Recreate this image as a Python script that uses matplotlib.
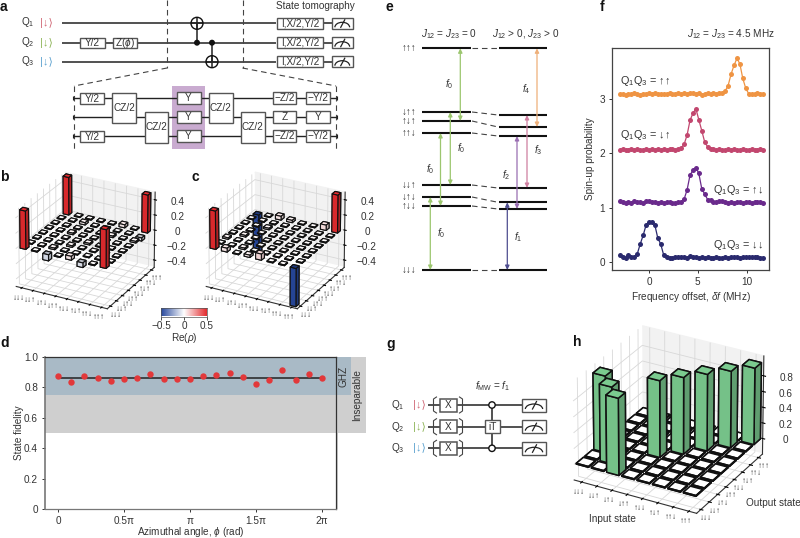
import numpy as np
import matplotlib
matplotlib.use('Agg')
import matplotlib.pyplot as plt
from matplotlib.colors import LinearSegmentedColormap, Normalize, to_rgb
from matplotlib.patches import Rectangle, Circle, Arc
from mpl_toolkits.mplot3d import Axes3D

plt.rcParams['font.family'] = ['Liberation Sans', 'DejaVu Sans']
plt.rcParams['mathtext.fontset'] = 'custom'
plt.rcParams['mathtext.rm'] = 'Liberation Sans'
plt.rcParams['mathtext.it'] = 'Liberation Sans:italic'
plt.rcParams['mathtext.bf'] = 'Liberation Sans:bold'
plt.rcParams['axes.unicode_minus'] = True

W, H = 800, 538
TXT = '#333333'
FS = 7.2
ARW = 7.0

states = ['↓↓↓', '↓↓↑', '↓↑↓', '↓↑↑', '↑↓↓', '↑↓↑', '↑↑↓', '↑↑↑']

# ---- panel b / c: density matrices
rho_b = [[.50, .01, .01, .01, .01, .01, .01, .50],
         [.01, .01, .01, .01, .01, .01, .01, .01],
         [-.08, .02, .01, .01, .02, .01, .03, .01],
         [.01, .01, .02, .01, .01, .01, .01, .01],
         [.05, .01, .01, .02, .01, .01, .01, .01],
         [-.06, .01, .01, .01, .01, .02, .01, .04],
         [.01, .01, .01, .01, .01, .01, .01, .01],
         [.50, .01, .01, .01, .01, .02, -.04, .50]]
rho_c = [[.50, .01, .02, .01, .01, .01, .01, -.50],
         [.05, .01, .01, .02, .01, .01, .01, .01],
         [.01, .02, .01, .01, .01, .02, .01, .05],
         [.03, .01, .01, .01, .01, .01, .01, .03],
         [.08, .01, .01, .01, .01, .01, .01, .01],
         [.01, .01, .01, .01, .01, .01, .01, .01],
         [.01, .01, .01, .01, .01, .01, .01, .07],
         [-.50, .01, .01, .01, .01, .01, .01, .50]]
# ---- panel h: truth table
tt_h = [[.01, .01, .97, .01, .01, .01, .01, .01],
        [.01, .97, .01, .01, .01, .01, .01, .01],
        [.97, .01, .01, .01, .01, .01, .01, .01],
        [.01, .01, .01, .97, .01, .01, .01, .01],
        [.01, .01, .01, .01, .97, .01, .01, .01],
        [.01, .01, .01, .01, .01, .97, .01, .01],
        [.01, .01, .01, .01, .01, .01, .97, .01],
        [.01, .01, .01, .01, .01, .01, .01, .97]]

# ---- panel d
phi_d = [0, .1, .2, .3, .4, .5, .6, .7, .8, .9, 1.0, 1.1, 1.2, 1.3, 1.4, 1.5, 1.6, 1.7, 1.8, 1.9, 2.0]
fid_d = [.875, .835, .875, .86, .84, .855, .865, .885, .858, .858, .855, .878, .88, .893, .87, .825, .847, .915, .85, .888, .865]
fid_mean = .865

# ---- panel f
freq = [-3.0, -2.7, -2.4, -2.1, -1.8, -1.5, -1.2, -.9, -.6, -.3, 0, .3, .6, .9, 1.2, 1.5, 1.8, 2.1, 2.4, 2.7,
        3.0, 3.3, 3.6, 3.9, 4.2, 4.5, 4.8, 5.1, 5.4, 5.7, 6.0, 6.3, 6.6, 6.9, 7.2, 7.5, 7.8, 8.1, 8.4, 8.7,
        9.0, 9.3, 9.6, 9.9, 10.2, 10.5, 10.8, 11.1, 11.4, 11.7]
s_dd = [.13, .09, .08, .12, .09, .09, .15, .33, .49, .68, .74, .74, .68, .44, .33, .13, .09, .08, .08, .09,
        .10, .09, .10, .08, .11, .10, .09, .08, .09, .08, .09, .08, .07, .09, .08, .07, .09, .08, .09, .09,
        .10, .08, .09, .09, .10, .09, .10, .09, .08, .08]
s_ud = [1.12, 1.10, 1.09, 1.11, 1.09, 1.12, 1.10, 1.11, 1.09, 1.12, 1.13, 1.11, 1.10, 1.09, 1.11, 1.09, 1.10, 1.11, 1.08, 1.09,
        1.10, 1.11, 1.16, 1.33, 1.60, 1.69, 1.74, 1.63, 1.35, 1.25, 1.15, 1.14, 1.11, 1.10, 1.12, 1.13, 1.10, 1.09, 1.10, 1.09,
        1.11, 1.10, 1.09, 1.11, 1.10, 1.09, 1.10, 1.11, 1.10, 1.09]
s_du = [2.07, 2.08, 2.06, 2.07, 2.09, 2.07, 2.08, 2.07, 2.06, 2.08, 2.07, 2.08, 2.07, 2.09, 2.07, 2.08, 2.07, 2.08, 2.09, 2.07,
        2.08, 2.10, 2.17, 2.34, 2.61, 2.74, 2.82, 2.62, 2.42, 2.21, 2.12, 2.09, 2.08, 2.06, 2.08, 2.07, 2.06, 2.08, 2.07, 2.08,
        2.06, 2.07, 2.08, 2.06, 2.07, 2.08, 2.06, 2.07, 2.08, 2.07]
s_uu = [3.10, 3.09, 3.07, 3.10, 3.09, 3.11, 3.09, 3.08, 3.10, 3.09, 3.11, 3.10, 3.12, 3.09, 3.10, 3.09, 3.10, 3.11, 3.09, 3.10,
        3.11, 3.09, 3.11, 3.10, 3.12, 3.11, 3.10, 3.12, 3.07, 3.10, 3.11, 3.09, 3.12, 3.10, 3.11, 3.12, 3.15, 3.25, 3.46, 3.62,
        3.75, 3.65, 3.38, 3.20, 3.10, 3.10, 3.09, 3.12, 3.10, 3.09]
f_cols = ['#2a2a6e', '#6a2a8c', '#c2476f', '#ef9443']

# ---- panel e
lv_left = [48.3, 112, 121, 133, 185, 197, 206, 270]
lv_right = [48.3, 115, 127, 136, 188, 202.3, 209, 270]
lv_names = ['↑↑↑', '↓↑↑', '↑↓↑', '↑↑↓', '↓↓↑', '↓↑↓', '↑↓↓', '↓↓↓']

fig = plt.figure(figsize=(8, 5.38), dpi=100)

def axpos(x0, y0, x1, y1):
    return [x0 / W, 1 - y1 / H, (x1 - x0) / W, (y1 - y0) / H]

ov = fig.add_axes([0, 0, 1, 1], zorder=1)
ov.set_xlim(0, W); ov.set_ylim(H, 0); ov.axis('off'); ov.patch.set_alpha(0)

def line(xs, ys, lw=1.1, c='#222222', **k):
    ov.plot(xs, ys, lw=lw, color=c, solid_capstyle='butt', **k)

def box(x0, x1, y0, y1, s=None, fs=FS, lw=1.0, fc='white', ec='#555555'):
    ov.add_patch(Rectangle((x0, y0), x1 - x0, y1 - y0, fc=fc, ec=ec, lw=lw, zorder=3))
    if s:
        ov.text((x0 + x1) / 2, (y0 + y1) / 2, s, ha='center', va='center', fontsize=fs, color=TXT, zorder=4)

def meter(x0, x1, yc, h=11):
    box(x0, x1, yc - h / 2, yc + h / 2)
    xc = (x0 + x1) / 2
    ov.add_patch(Arc((xc, yc + 4), (x1 - x0) * .72, 10, theta1=180, theta2=360, lw=.9, color='#222222', zorder=4))
    ov.plot([xc - 1.5, xc + 2.5], [yc + 4, yc - 3.5], lw=.9, color='#222222', zorder=4)

def dash(xs, ys):
    ov.plot(xs, ys, lw=.8, color='#444444', ls=(0, (5, 3.5)))

def plabel(x, y, s):
    ov.text(x, y, s, fontsize=10, fontweight='bold', ha='left', va='center', color='#111111')

for x, y, s in [(0, 7, 'a'), (0, 177, 'b'), (192, 177, 'c'), (0, 343, 'd'), (386, 7, 'e'), (600, 7, 'f'), (386, 344, 'g'), (573, 342, 'h')]:
    plabel(x, y, s)

# ---------- panel a
qy = [23.3, 42.7, 61.7]
qcol = ['#d16a78', '#8fb55a', '#5fa3d0']
for i, y in enumerate(qy):
    ov.text(21, y - 1, f'Q$_{i+1}$', fontsize=FS, va='center', ha='left', color=TXT)
    ov.text(46, y, '|↓⟩', fontsize=8, va='center', ha='center', color=qcol[i])
    line([62, 276], [y, y])
    box(277, 323, y - 5.7, y + 5.7, 'I,X/2,Y/2', fs=FS)
    line([323, 332], [y, y])
    meter(332, 352.5, y)
box(80, 104.5, qy[1] - 5, qy[1] + 5.5, 'Y/2')
box(112.5, 136.5, qy[1] - 5, qy[1] + 5.5, 'Z($\\phi$)')
ov.text(315, 6, 'State tomography', fontsize=FS, ha='center', va='center', color=TXT)
for xc, yt, yd in [(197, qy[0], qy[1]), (212, qy[2], qy[1])]:
    line([xc, xc], [yt, yd])
    ov.add_patch(Circle((xc, yt), 6, fc='none', ec='#111111', lw=1, zorder=4))
    line([xc - 6, xc + 6], [yt, yt]); line([xc, xc], [yt - 6, yt + 6])
    ov.add_patch(Circle((xc, yd), 3, fc='#111111', ec='none', zorder=4))
dash([167, 167], [0, 68]); dash([242.5, 242.5], [0, 68])
dash([167, 74], [68, 86]); dash([242.5, 336], [68, 86])
dash([74, 74], [86, 152]); dash([335.5, 335.5], [86, 152])
ly = [98, 117, 136]
ov.add_patch(Rectangle((172, 85.5), 33, 63.5, fc='#c9abd0', ec='none', zorder=1))
for y in ly:
    line([73, 337], [y, y], lw=1)
    line([73, 73], [y - 2, y + 2], lw=.8); line([337, 337], [y - 2, y + 2], lw=.8)
box(80, 104, 93, 104, 'Y/2'); box(80, 104, 131, 142, 'Y/2')
box(112, 136, 93, 123, 'CZ/2'); box(144.5, 168, 112, 143, 'CZ/2')
for y in ly:
    box(176.5, 200.5, y - 5.7, y + 5.7, 'Y')
box(208.5, 232.5, 93, 123, 'CZ/2'); box(241, 264.5, 112, 143, 'CZ/2')
for y, a, b in zip(ly, ['−Z/2', 'Z', '−Z/2'], ['−Y/2', 'Y', '−Y/2']):
    box(273, 296, y - 5.7, y + 5.7, a); box(306, 330, y - 5.7, y + 5.7, b)

# ---------- panel e
ov.text(449, 34, '$J_{12}$ = $J_{23}$ = 0', fontsize=FS, ha='center', va='center', color=TXT)
ov.text(526, 34, '$J_{12}$ > 0, $J_{23}$ > 0', fontsize=FS, ha='center', va='center', color=TXT)
for yl, yr, nm in zip(lv_left, lv_right, lv_names):
    line([422, 471], [yl, yl], lw=1.5, c='#111111')
    line([499, 546.5], [yr, yr], lw=1.5, c='#111111')
    dash([472, 498], [yl, yr])
    ov.text(409, yl, nm, fontsize=ARW, ha='center', va='center', color=TXT)

def varrow(x, y0, y1, c):
    ov.annotate('', xy=(x, y0), xytext=(x, y1), arrowprops=dict(arrowstyle='<|-|>,head_width=.12,head_length=.25', color=c, lw=.9, shrinkA=0, shrinkB=0))

G = '#9cc66f'
for x, y0, y1 in [(430.3, 197, 270), (440.5, 133, 206), (450.3, 112, 185), (460.3, 48.3, 121)]:
    varrow(x, y0, y1, G)
for x, y0, y1, c in [(507.3, 202.3, 270, '#4e4d8f'), (517, 136, 209, '#9a6eb2'), (527, 115, 188, '#cf7fa0'), (537, 48.3, 127, '#eeb07a')]:
    varrow(x, y0, y1, c)
for x, y, s in [(449, 84.5, '$f_0$'), (461, 148, '$f_0$'), (430, 169, '$f_0$'), (441.5, 233, '$f_0$'),
                (526, 89, '$f_4$'), (538, 150, '$f_3$'), (506.5, 175, '$f_2$'), (518, 237, '$f_1$')]:
    ov.text(x, y, s, fontsize=FS, ha='center', va='center', color=TXT)

# ---------- panel g
gy = [405, 426.7, 448.3]
ov.text(492.5, 386, '$f_{\\mathrm{MW}}$ = $f_1$', fontsize=FS, ha='center', va='center', color=TXT)
for i, y in enumerate(gy):
    ov.text(391, y, f'Q$_{i+1}$', fontsize=FS, va='center', ha='left', color=TXT)
    ov.text(419, y, '|↓⟩', fontsize=8, va='center', ha='center', color=qcol[i])
    line([428, 522], [y, y])
    box(440, 457, y - 6.5, y + 6.5, 'X', lw=1.1)
    meter(522, 546, y, h=13)
    for xb, side in [(433.5, 1), (462.5, -1)]:
        ov.plot([xb + side * 3, xb, xb, xb + side * 3], [y - 8, y - 6, y + 6, y + 8], lw=.8, color='#444444', zorder=4)
line([492, 492], [gy[0], gy[2]])
box(484.5, 500, gy[1] - 6.5, gy[1] + 6.5, 'iT', lw=1)
for y in [gy[0], gy[2]]:
    ov.add_patch(Circle((492, y), 3.2, fc='white', ec='#111111', lw=1, zorder=4))

# ---------- panel d
axd = fig.add_axes(axpos(45, 357, 336, 509), zorder=2)
ppi = 132.0
axd.set_xlim((45 - 58) / ppi, (336 - 58) / ppi)
axd.set_ylim(0, 1)
ext = 366; ext2 = 351
ov.add_patch(Rectangle((45, 357), ext - 45, 76, fc='#cfcfcf', ec='none', zorder=0))
ov.add_patch(Rectangle((45, 357), ext2 - 45, 38, fc='#a9bac6', ec='none', zorder=0))
ov.add_patch(Rectangle((336, 433), 1.5, 76, fc='#cfcfcf', ec='none', zorder=0))
axd.patch.set_alpha(0)
axd.hlines(fid_mean, 0, 2, color='#222222', lw=1.1, zorder=3)
axd.plot(phi_d, fid_d, 'o', color='#e2383a', ms=4.6, mew=0, zorder=4)
axd.set_xticks([0, .5, 1, 1.5, 2]); axd.set_xticklabels(['0', '0.5π', 'π', '1.5π', '2π'])
axd.set_yticks([0, .2, .4, .6, .8, 1]); axd.set_yticklabels(['0', '0.2', '0.4', '0.6', '0.8', '1.0'])
axd.tick_params(labelsize=FS, length=2.5, width=.7, pad=2.5, colors=TXT)
axd.set_xlabel('Azimuthal angle, $\\phi$ (rad)', fontsize=FS, color=TXT, labelpad=-1)
axd.set_ylabel('State fidelity', fontsize=FS, color=TXT, labelpad=0)
for sp in axd.spines.values():
    sp.set_linewidth(.9); sp.set_color('#333333')
axd.spines['left'].set_linewidth(1.2); axd.spines['left'].set_color('#777777')
axd.spines['bottom'].set_color('#777777')
ov.text(343.5, 376, 'GHZ', rotation=90, fontsize=FS, ha='center', va='center', color=TXT)
ov.text(357, 395, 'Inseparable', rotation=90, fontsize=FS, ha='center', va='center', color=TXT)

# ---------- panel f
axf = fig.add_axes(axpos(612, 48, 769, 270), zorder=2)
axf.set_xlim((612 - 649) / 9.77, (769 - 649) / 9.77)
axf.set_ylim((262 - 270) / 54.3, (262 - 48) / 54.3)
for s, c in zip([s_dd, s_ud, s_du, s_uu], f_cols):
    axf.plot(freq, s, '-o', color=c, lw=.9, ms=3.6, mew=0)
axf.set_xticks([0, 5, 10]); axf.set_yticks([0, 1, 2, 3])
axf.tick_params(labelsize=FS, length=2.5, width=.7, pad=2.5, colors=TXT)
axf.set_xlabel('Frequency offset, $\\delta f$ (MHz)', fontsize=FS, color=TXT, labelpad=2)
axf.set_ylabel('Spin-up probability', fontsize=FS, color=TXT, labelpad=3)
for sp in axf.spines.values():
    sp.set_linewidth(.9); sp.set_color('#444444')
for x, y, s, ha in [(-3, 3.34, 'Q$_1$Q$_3$ = ↑↑', 'left'), (-3, 2.33, 'Q$_1$Q$_3$ = ↓↑', 'left'),
                    (11.7, 1.33, 'Q$_1$Q$_3$ = ↑↓', 'right'), (11.7, .31, 'Q$_1$Q$_3$ = ↓↓', 'right')]:
    axf.text(x, y, s, fontsize=FS + .6, ha=ha, va='center', color=TXT)
ov.text(731, 34, '$J_{12}$ = $J_{23}$ = 4.5 MHz', fontsize=FS, ha='center', va='center', color=TXT)

# ---------- 3D panels
cmap = LinearSegmentedColormap.from_list('rr', ['#27489c', '#ffffff', '#e32b2e'])
norm = Normalize(-.5, .5)

def faces(c):
    r = np.array(to_rgb(c)[:3])
    # bottom, top, -y, +y, -x, +x
    mult = [.8, 1.0, .95, .8, .8, .78]
    return [tuple(np.clip(r * m, 0, 1)) for m in mult]

def bars3d(pos, mat, zlim, zticks, zlabels, colfn, width, elev, azim, box_aspect, tickfs=ARW - 1.2, lw=.8):
    ax = fig.add_axes(axpos(*pos), projection='3d', computed_zorder=False, zorder=1.5)
    ax.patch.set_alpha(0)
    ax.set_proj_type('persp', focal_length=3)
    m = np.array(mat, float)
    xx, yy = np.meshgrid(np.arange(8), np.arange(8), indexing='ij')
    x = xx.ravel() + .5 - width / 2; y = yy.ravel() + .5 - width / 2; dz = m.ravel()
    cols = []
    for v in dz:
        cols.extend(faces(colfn(v)))
    ax.bar3d(x, y, np.zeros_like(dz), width, width, dz, color=cols,
             edgecolor='#111111', linewidth=lw, shade=False, zsort='average')
    ax.set_xlim(0, 8); ax.set_ylim(0, 8); ax.set_zlim(*zlim)
    ax.view_init(elev=elev, azim=azim)
    ax.set_box_aspect(box_aspect, zoom=1.0)
    ax.set_xticks(np.arange(8) + .5); ax.set_xticklabels(states, fontsize=tickfs, color=TXT)
    ax.set_yticks(np.arange(8) + .5); ax.set_yticklabels(states, fontsize=tickfs, color=TXT)
    ax.set_zticks(zticks); ax.set_zticklabels(zlabels, fontsize=FS, color=TXT)
    ax.tick_params(axis='x', pad=-4.5, length=0); ax.tick_params(axis='y', pad=-4.5, length=0)
    ax.tick_params(axis='z', pad=2)
    for a in (ax.xaxis, ax.yaxis, ax.zaxis):
        a.pane.set_edgecolor('#dddddd')
        a._axinfo['grid'].update(color='#d8d8d8', linewidth=.6)
        a.line.set_color('#333333'); a.line.set_linewidth(.8)
    ax.xaxis.set_pane_color((1, 1, 1, 1)); ax.yaxis.set_pane_color((.95, .95, .95, 1))
    ax.zaxis.set_pane_color((1, 1, 1, 1))
    return ax

zl = ['−0.4', '−0.2', '0', '0.2', '0.4']
zt = [-.4, -.2, 0, .2, .4]
bars3d((-7, 160, 174, 323), rho_b, (-.5, .5), zt, zl, lambda v: cmap(norm(v)), .5, 26, -62, (1, 1, .82))
bars3d((183, 160, 364, 323), rho_c, (-.5, .5), zt, zl, lambda v: cmap(norm(v)), .5, 26, -62, (1, 1, .82))
bars3d((542.5, 311, 789.5, 531), tt_h, (-.2, 1.05), [0, .2, .4, .6, .8], ['0', '0.2', '0.4', '0.6', '0.8'],
       lambda v: '#7bcb8f' if v > .2 else '#ffffff', .8, 28, -61, (1, 1, .8), lw=1.1)
ov.text(612, 519, 'Input state', fontsize=FS, ha='center', va='center', color=TXT)
ov.text(773, 503, 'Output state', fontsize=FS, ha='center', va='center', color=TXT)

# colourbar
axc = fig.add_axes(axpos(161, 308, 207, 316.5), zorder=3)
axc.imshow(np.linspace(-.5, .5, 128)[None, :], cmap=cmap, norm=norm, aspect='auto', extent=(-.5, .5, 0, 1))
axc.set_yticks([]); axc.set_xticks([-.5, 0, .5]); axc.set_xticklabels(['−0.5', '0', '0.5'])
axc.tick_params(labelsize=FS, length=2, width=.6, pad=1.5, colors=TXT)
for sp in axc.spines.values():
    sp.set_linewidth(.5); sp.set_color('#555555')
axc.set_xlabel('Re($\\rho$)', fontsize=FS, color=TXT, labelpad=0)

fig.savefig('out.png', dpi=100)
